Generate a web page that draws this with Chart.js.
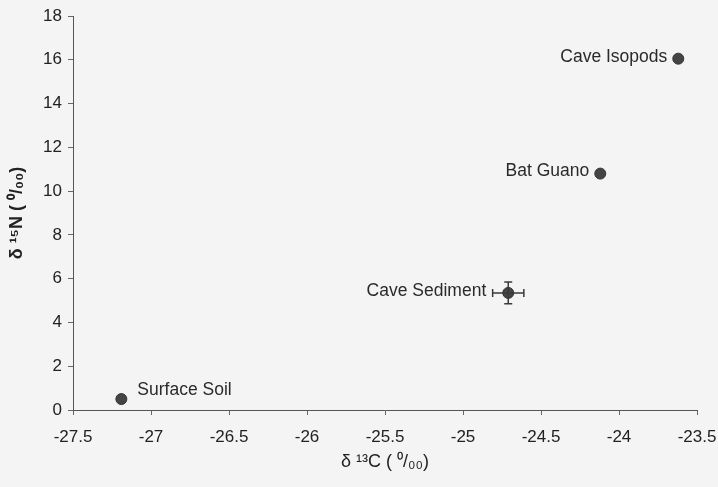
<!DOCTYPE html>
<html>
<head>
<meta charset="utf-8">
<script src="https://cdn.jsdelivr.net/npm/chart.js@4/dist/chart.umd.min.js"></script>
<style>
  html, body { margin: 0; padding: 0; background: #f4f4f4; }
  #wrap { width: 718px; height: 487px; }
</style>
</head>
<body>
<div id="wrap"><canvas id="iso"></canvas></div>
<script>
// sample names and isotope values (per mil)
const names = ["Surface Soil", "Cave Sediment", "Bat Guano", "Cave Isopods"];
const d13C = [-27.19, -24.71, -24.12, -23.62];
const d15N = [0.5, 5.35, 10.8, 16.05];
// error (only cave sediment has bars)
const errC = [0, 0.1, 0, 0];
const errN = [0, 0.5, 0, 0];
// where the label sits relative to its point
const labelSide = ["right", "left", "left", "left"];

const xTicks = [-27.5, -27, -26.5, -26, -25.5, -25, -24.5, -24, -23.5];
const yTicks = [0, 2, 4, 6, 8, 10, 12, 14, 16, 18];

const ink = "#3a3a3a";
const fam = "'Liberation Sans', Arial, sans-serif";
const axisFont = { family: fam, size: 17 };

const points = d13C.map((x, i) => ({ x: x, y: d15N[i] }));

// error bars + point labels
const extras = {
  id: "extras",
  afterDatasetsDraw(chart) {
    const { ctx, scales: { x, y } } = chart;
    ctx.save();
    ctx.strokeStyle = ink;
    ctx.lineWidth = 1.5;
    points.forEach((p, i) => {
      const px = x.getPixelForValue(p.x), py = y.getPixelForValue(p.y);
      if (errC[i]) {
        const l = x.getPixelForValue(p.x - errC[i]), r = x.getPixelForValue(p.x + errC[i]);
        ctx.beginPath();
        ctx.moveTo(l, py); ctx.lineTo(r, py);
        ctx.moveTo(l, py - 4); ctx.lineTo(l, py + 4);
        ctx.moveTo(r, py - 4); ctx.lineTo(r, py + 4);
        ctx.stroke();
      }
      if (errN[i]) {
        const t = y.getPixelForValue(p.y + errN[i]), b = y.getPixelForValue(p.y - errN[i]);
        ctx.beginPath();
        ctx.moveTo(px, t); ctx.lineTo(px, b);
        ctx.moveTo(px - 4, t); ctx.lineTo(px + 4, t);
        ctx.moveTo(px - 4, b); ctx.lineTo(px + 4, b);
        ctx.stroke();
      }
    });
    ctx.fillStyle = "#2a2a2a";
    ctx.font = "17.5px " + fam;
    ctx.textBaseline = "middle";
    points.forEach((p, i) => {
      const px = x.getPixelForValue(p.x), py = y.getPixelForValue(p.y);
      if (labelSide[i] === "left") {
        ctx.textAlign = "right";
        ctx.fillText(names[i], px - (errC[i] ? 22 : 11), py - 2);
      } else {
        ctx.textAlign = "left";
        ctx.fillText(names[i], px + 16, py - 9);
      }
    });
    ctx.restore();
  }
};

new Chart(document.getElementById("iso"), {
  type: "scatter",
  data: {
    datasets: [{
      data: points,
      backgroundColor: "#444",
      borderColor: "#333",
      borderWidth: 1,
      pointRadius: 5.5,
      pointHoverRadius: 5.5
    }]
  },
  options: {
    responsive: true,
    maintainAspectRatio: false,
    animation: false,
    layout: { padding: { top: 16, right: 21, bottom: 0, left: 2 } },
    plugins: { legend: { display: false }, tooltip: { enabled: false } },
    scales: {
      x: {
        type: "linear",
        min: -27.5, max: -23.5,
        afterBuildTicks: s => { s.ticks = xTicks.map(v => ({ value: v })); },
        afterFit: s => { s.height = 77; s.paddingLeft = 0; s.paddingRight = 0; },
        ticks: { color: "#222", font: axisFont, padding: 12, maxRotation: 0, autoSkip: false,
                 callback: v => String(v) },
        grid: { drawOnChartArea: false, color: "#666", tickLength: 5 },
        border: { color: "#555", width: 1 },
        title: {
          display: true,
          text: "δ ¹³C ( ⁰/₀₀)",
          color: "#222",
          font: { family: fam, size: 18 },
          padding: { top: 0, bottom: 14 }
        }
      },
      y: {
        min: 0, max: 18,
        afterBuildTicks: s => { s.ticks = yTicks.map(v => ({ value: v })); },
        afterFit: s => { s.width = 71; s.paddingTop = 0; s.paddingBottom = 0; },
        ticks: { color: "#222", font: axisFont, padding: 6, callback: v => String(v) },
        grid: { drawOnChartArea: false, color: "#666", tickLength: 5 },
        border: { color: "#555", width: 1 },
        title: {
          display: true,
          text: "δ ¹⁵N ( ⁰/₀₀)",
          color: "#222",
          font: { family: fam, size: 18, weight: "bold" },
          padding: { top: 4, bottom: 6 }
        }
      }
    }
  },
  plugins: [extras]
});
</script>
</body>
</html>
